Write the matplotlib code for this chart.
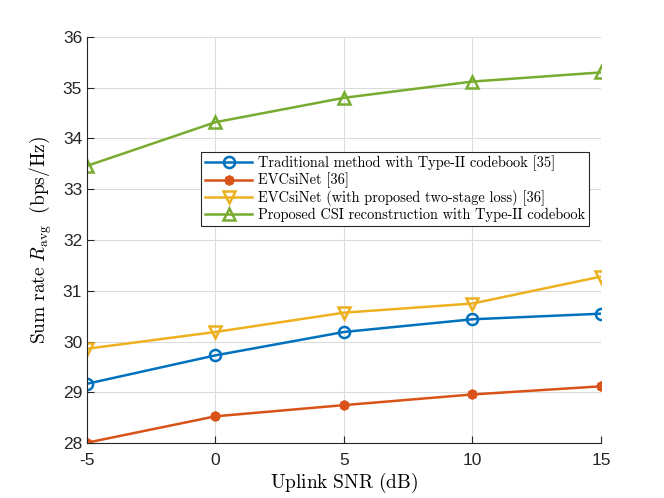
import matplotlib
matplotlib.use('Agg')
from matplotlib import pyplot as plt

plt.rcParams['mathtext.fontset'] = 'cm'
plt.rcParams['font.family'] = ['Liberation Sans', 'DejaVu Sans']

# data
snr = [-5, 0, 5, 10, 15]
trad = [29.17, 29.73, 30.19, 30.44, 30.55]
evcsi = [28.01, 28.53, 28.75, 28.96, 29.12]
evcsi_2stage = [29.86, 30.19, 30.57, 30.75, 31.28]
proposed = [33.46, 34.32, 34.80, 35.12, 35.30]

labels = ['Traditional method with Type-II codebook [35]',
          'EVCsiNet [36]',
          'EVCsiNet (with proposed two-stage loss) [36]',
          'Proposed CSI reconstruction with Type-II codebook']

fig = plt.figure(figsize=(6.64, 4.98), dpi=100)
ax = fig.add_axes([0.131, 0.110, 0.774, 0.816])

ax.plot(snr, trad, color='#0072BD', marker='o', markersize=8, mfc='none', mew=1.8, lw=1.8, label=labels[0])
ax.plot(snr, evcsi, color='#D95319', marker=(8, 2, 0), markersize=7, mew=2.0, lw=1.8, label=labels[1])
ax.plot(snr, evcsi_2stage, color='#EDB120', marker='v', markersize=9, mfc='none', mew=1.8, lw=1.8, label=labels[2])
ax.plot(snr, proposed, color='#77AC30', marker='^', markersize=9, mfc='none', mew=1.8, lw=1.8, label=labels[3])

ax.set_xlim(-5, 15)
ax.set_ylim(28, 36)
ax.set_xticks([-5, 0, 5, 10, 15])
ax.set_xticklabels(['-5', '0', '5', '10', '15'])
ax.set_yticks(range(28, 37))
ax.grid(True, color='#dcdcdc', lw=0.8)
ax.set_axisbelow(True)
ax.spines['top'].set_visible(False)
ax.spines['right'].set_visible(False)
for s in ['left', 'bottom']:
    ax.spines[s].set_color('#262626')
    ax.spines[s].set_linewidth(0.8)
ax.tick_params(direction='in', length=5, width=0.8, colors='#262626', labelsize=12.5)
ax.tick_params(axis='x', pad=7)

ax.set_xlabel(r'$\mathrm{Uplink\ SNR\ (dB)}$', fontsize=14, labelpad=2)
ax.set_ylabel(r'$\mathrm{Sum\ rate\ }R_{\mathrm{avg}}\mathrm{\ \ (bps/Hz)}$', fontsize=14, labelpad=6)

leg = ax.legend(loc='upper left', bbox_to_anchor=(0.222, 0.717), fancybox=False,
                framealpha=1, edgecolor='#262626', handlelength=3.3, handletextpad=0.4,
                borderpad=0.25, labelspacing=0.12, borderaxespad=0,
                prop={'family': 'cmr10', 'size': 10.4})
leg.get_frame().set_linewidth(0.8)

fig.savefig('out.png', dpi=100)
